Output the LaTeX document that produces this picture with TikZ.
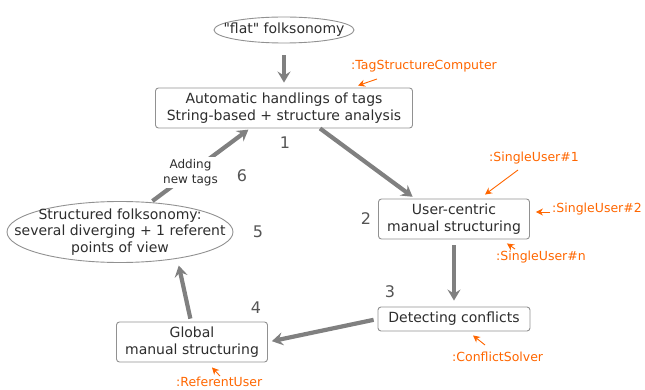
\documentclass[tikz,border=0pt]{standalone}
\usepackage{fontspec}
\setmainfont{DejaVu Sans}[Ligatures=TeXOff]
\usetikzlibrary{arrows.meta,positioning,shapes.geometric}
\definecolor{fkgray}{RGB}{128,128,128}
\definecolor{fkframe}{RGB}{145,145,145}
\definecolor{fktext}{RGB}{45,45,45}
\definecolor{fknum}{RGB}{85,85,85}
\definecolor{fkorange}{RGB}{255,102,0}

\begin{document}
\begin{tikzpicture}[x=1pt,y=-1pt,
  stepbox/.style={draw=fkframe, line width=0.9pt, rounded corners=3pt, fill=white,
    text=fktext, align=center, inner sep=0pt, font=\fontsize{14}{16.5}\selectfont},
  viewpoint/.style={ellipse, draw=fkframe, line width=0.9pt, inner sep=0pt},
  viewtext/.style={text=fktext, align=center, inner sep=0pt, font=\fontsize{14}{16.5}\selectfont},
  flow/.style={draw=fkgray, line width=4.2pt, -{Stealth[length=11pt,width=13pt,inset=4pt]}},
  rolelabel/.style={text=fkorange, anchor=west, inner sep=0pt, font=\fontsize{12.5}{15}\selectfont},
  rolearrow/.style={draw=fkorange, line width=0.9pt, -{Stealth[length=7pt,width=7pt]}},
  stepnum/.style={text=fknum, inner sep=0pt, font=\fontsize{16}{16}\selectfont}]
\useasboundingbox (0,0) rectangle (645,390);
% ellipses for the two folksonomies
\node[viewpoint, minimum width=140pt, minimum height=26pt] (flat) at (284,30) {};
\node[viewtext] (flattext) at (flat) {"flat" folksonomy};
\node[viewpoint, minimum width=226pt, minimum height=61pt] (struct) at (120,232) {};
\node[viewtext] (structtext) at (struct) {Structured folksonomy:\\several diverging + 1 referent\\points of view};
% processing steps
\node[stepbox, minimum width=257pt, minimum height=40pt] (auto) at (284,108)
  {Automatic handlings of tags\\String-based + structure analysis};
\node[stepbox, minimum width=151pt, minimum height=40pt] (user) at (454,219)
  {User-centric\\manual structuring};
\node[stepbox, minimum width=152pt, minimum height=24pt] (detect) at (454,319)
  {Detecting conflicts};
\node[stepbox, minimum width=151pt, minimum height=40pt] (global) at (192,342)
  {Global\\manual structuring};
% step numbers
\node[stepnum] (n1) at (285,143) {1};
\node[stepnum] (n2) at (366,219) {2};
\node[stepnum] (n3) at (390,292) {3};
\node[stepnum] (n4) at (256,308) {4};
\node[stepnum] (n5) at (258,232) {5};
\node[stepnum] (n6) at (242,176) {6};
% main flow
\draw[flow, shorten <=12pt, shorten >=5pt] (flat) -- (auto);
\draw[flow, shorten >=3pt] ([xshift=36]auto.south) -- ([xshift=-39]user.north);
\draw[flow, shorten <=6pt, shorten >=6pt] (user) -- (detect);
\draw[flow, shorten <=4pt, shorten >=4pt] (detect.west) -- (global.east);
\draw[flow, shorten <=3pt, shorten >=7pt] ([xshift=-1]global.north) -- (struct.-25);
\draw[flow, shorten <=2pt, shorten >=2pt] (struct.44) -- ([xshift=-34]auto.south)
  node[pos=0.4, fill=white, text=fktext, align=center, inner sep=2pt,
       font=\fontsize{12}{15}\selectfont] (adding) {Adding\\new tags};
% roles
\node[rolelabel] (tsc) at (351,66) {:TagStructureComputer};
\node[rolelabel] (su1) at (489,158) {:SingleUser\#1};
\node[rolelabel] (su2) at (552,209) {:SingleUser\#2};
\node[rolelabel] (sun) at (496,257) {:SingleUser\#n};
\node[rolelabel] (cs) at (452,357) {:ConflictSolver};
\node[rolelabel] (ru) at (176,382) {:ReferentUser};
\coordinate (tscTail) at (377,79);
\coordinate (su1Tail) at (518,170);
\coordinate (su2Tail) at (550,212);
\coordinate (sunTail) at (515,249);
\coordinate (csTail) at (485,345);
\coordinate (ruTail) at (220,376);
\draw[rolearrow] (tscTail) -- ([xshift=74,yshift=2]auto.north);
\draw[rolearrow] (su1Tail) -- ([xshift=31,yshift=4]user.north);
\draw[rolearrow] (su2Tail) -- ([xshift=6,yshift=7]user.east);
\draw[rolearrow] (sunTail) -- ([xshift=-23,yshift=-4]user.south east);
\draw[rolearrow] (csTail) -- ([xshift=19,yshift=-4]detect.south);
\draw[rolearrow] (ruTail) -- ([xshift=20,yshift=-5]global.south);
\end{tikzpicture}
\end{document}
